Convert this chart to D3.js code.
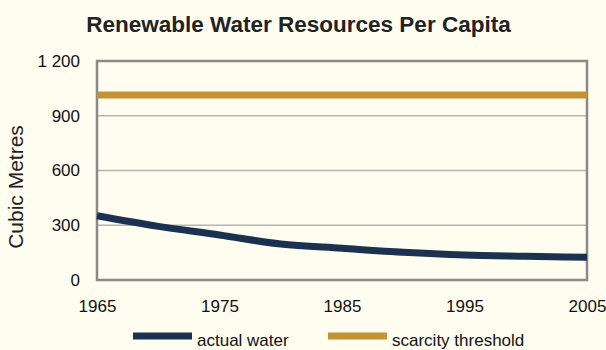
<!DOCTYPE html>
<html><head><meta charset="utf-8">
<script src="https://cdn.jsdelivr.net/npm/d3@7"></script>
<style>
html,body{margin:0;padding:0;background:#fffdf0;}
svg{display:block;font-family:"Liberation Sans",Arial,sans-serif;}
</style></head>
<body>
<svg id="c" width="606" height="350"></svg>
<script>
const years = [1965,1970,1975,1980,1985,1990,1995,2000,2005];
const actualWater = [352,294,247,197,174,152,137,130,124];
const scarcityThreshold = [1014,1014,1014,1014,1014,1014,1014,1014,1014];
const yTicks = [0,300,600,900,1200];
const xTicks = [1965,1975,1985,1995,2005];
const seriesNames = ["actual water","scarcity threshold"];
const colors = ["#1b3150","#c39233"];

const svg = d3.select("#c");
svg.append("rect").attr("width",606).attr("height",350).attr("fill","#fffdf0");

const x = d3.scaleLinear().domain([1965,2005]).range([97,587]);
const y = d3.scaleLinear().domain([0,1200]).range([280,61]);

// gridlines
svg.append("g").selectAll("line").data(yTicks.filter(d=>d>0 && d<1200)).join("line")
  .attr("x1",x(1965)).attr("x2",x(2005)).attr("y1",d=>y(d)).attr("y2",d=>y(d))
  .attr("stroke","#b4b4b0").attr("stroke-width",1.5);

// frame
svg.append("rect").attr("x",x(1965)).attr("y",y(1200)).attr("width",x(2005)-x(1965)).attr("height",y(0)-y(1200))
  .attr("fill","none").attr("stroke","#8a8a88").attr("stroke-width",2.5);

// y axis labels
const fmt = d => d>=1000 ? d3.format(",")(d).replace(","," ") : String(d);
const yAxis = d3.axisLeft(y).tickValues(yTicks).tickSize(0).tickPadding(17).tickFormat(fmt);
const gy = svg.append("g").attr("transform",`translate(${x(1965)},0)`).call(yAxis);
gy.select(".domain").remove();
gy.selectAll("text").attr("font-size",17).attr("fill","#111").attr("font-family","Liberation Sans, Arial, sans-serif");

// x axis labels
const xAxis = d3.axisBottom(x).tickValues(xTicks).tickSize(0).tickPadding(20).tickFormat(d3.format("d"));
const gx = svg.append("g").attr("transform",`translate(0,${y(0)})`).call(xAxis);
gx.select(".domain").remove();
gx.selectAll("text").attr("font-size",17).attr("fill","#111").attr("font-family","Liberation Sans, Arial, sans-serif");

// lines
const line = d3.line().x((d,i)=>x(years[i])).y(d=>y(d)).curve(d3.curveMonotoneX);
svg.append("path").datum(scarcityThreshold).attr("d",line).attr("fill","none")
  .attr("stroke",colors[1]).attr("stroke-width",7);
svg.append("path").datum(actualWater).attr("d",line).attr("fill","none")
  .attr("stroke",colors[0]).attr("stroke-width",7).attr("stroke-linejoin","round");

// title
svg.append("text").attr("x",298.5).attr("y",32).attr("text-anchor","middle")
  .attr("font-size",22.5).attr("font-weight","bold").attr("fill","#222")
  .text("Renewable Water Resources Per Capita");

// y title
svg.append("text").attr("transform","translate(23,187) rotate(-90)").attr("text-anchor","middle")
  .attr("font-size",21).attr("fill","#222").text("Cubic Metres");

// legend
const legX = [133,328];
seriesNames.forEach((n,i)=>{
  svg.append("line").attr("x1",legX[i]).attr("x2",legX[i]+59).attr("y1",336).attr("y2",336)
    .attr("stroke",colors[i]).attr("stroke-width",7);
  svg.append("text").attr("x",legX[i]+64).attr("y",346).attr("font-size",17).attr("fill","#111").text(n);
});
</script>
</body></html>
